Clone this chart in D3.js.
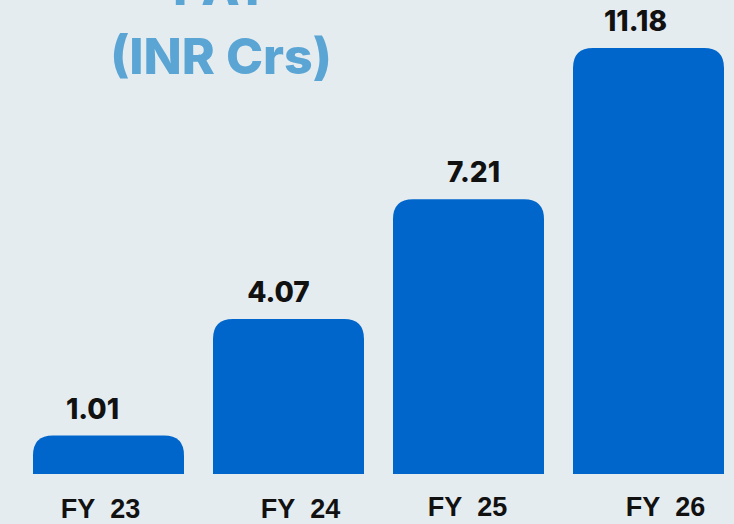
<!DOCTYPE html>
<html>
<head>
<meta charset="utf-8">
<script src="https://cdn.jsdelivr.net/npm/d3@7"></script>
<style>
  html, body { margin: 0; padding: 0; background: #e4ecf0; }
  svg { display: block; }
</style>
</head>
<body>
<div class="vis-barchart"></div>
<script>
const categories = ["FY 23", "FY 24", "FY 25", "FY 26"];
const patValues = [1.01, 4.07, 7.21, 11.18];
const valueLabels = ["1.01", "4.07", "7.21", "11.18"];
const titleLines = ["PAT", "(INR Crs)"];

const width = 734;
const height = 524;
const baseY = 474; // bar baseline

// label nudges as placed on the original slide (layout only)
const valueDx = [-16, -10, 5, -13];
const catDx = [-8, 12, -1, 17];
const catY = [518, 518, 516, 516];

const svg = d3.select(".vis-barchart")
    .append("svg")
    .attr("width", width)
    .attr("height", height);

svg.append("rect")
    .attr("width", width)
    .attr("height", height)
    .attr("fill", "#e4ecf0");

// X channel
const x = d3.scaleBand()
    .domain(categories)
    .range([33, 724])
    .paddingInner(29 / 180)
    .paddingOuter(0);

// Y channel
const y = d3.scaleLinear()
    .domain([0, 11.18])
    .range([baseY, 48]);

// bar with rounded top corners only
const r = 20;
function barPath(d) {
    const x0 = x(d.cat), x1 = x0 + x.bandwidth();
    const top = y(d.val);
    const rr = Math.min(r, (baseY - top));
    return `M${x0},${baseY} L${x0},${top + rr} Q${x0},${top} ${x0 + rr},${top} ` +
        `L${x1 - rr},${top} Q${x1},${top} ${x1},${top + rr} L${x1},${baseY} Z`;
}

const data = categories.map((c, i) => ({ cat: c, val: patValues[i], label: valueLabels[i], i: i }));

svg.selectAll(".bar")
    .data(data)
    .enter()
    .append("path")
    .attr("class", "bar")
    .attr("d", barPath)
    .attr("fill", "#0066cc");

// value labels
svg.selectAll(".val")
    .data(data)
    .enter()
    .append("text")
    .attr("class", "val")
    .attr("x", d => x(d.cat) + x.bandwidth() / 2 + valueDx[d.i])
    .attr("y", d => y(d.val) - 17)
    .attr("text-anchor", "middle")
    .attr("font-family", "Inter, 'Open Sans', sans-serif")
    .attr("font-weight", 800)
    .attr("font-size", 28)
    .attr("fill", "#111")
    .text(d => d.label);

// category labels
svg.selectAll(".cat")
    .data(data)
    .enter()
    .append("text")
    .attr("class", "cat")
    .attr("x", d => x(d.cat) + x.bandwidth() / 2 + catDx[d.i])
    .attr("y", d => catY[d.i])
    .attr("text-anchor", "middle")
    .attr("font-family", "'Liberation Sans', Arial, sans-serif")
    .attr("font-weight", "bold")
    .attr("font-size", 27)
    .attr("fill", "#111")
    .style("white-space", "pre")
    .text(d => d.cat.replace(" ", "\u00a0\u00a0"));

// title
const title = svg.append("text")
    .attr("text-anchor", "middle")
    .attr("font-family", "Inter, 'Open Sans', sans-serif")
    .attr("font-weight", 800)
    .attr("font-size", 50)
    .attr("fill", "#5aa5d4");
title.append("tspan").attr("x", 221).attr("y", 5).text(titleLines[0]);
title.append("tspan").attr("x", 221).attr("y", 74).text(titleLines[1]);
</script>
</body>
</html>
